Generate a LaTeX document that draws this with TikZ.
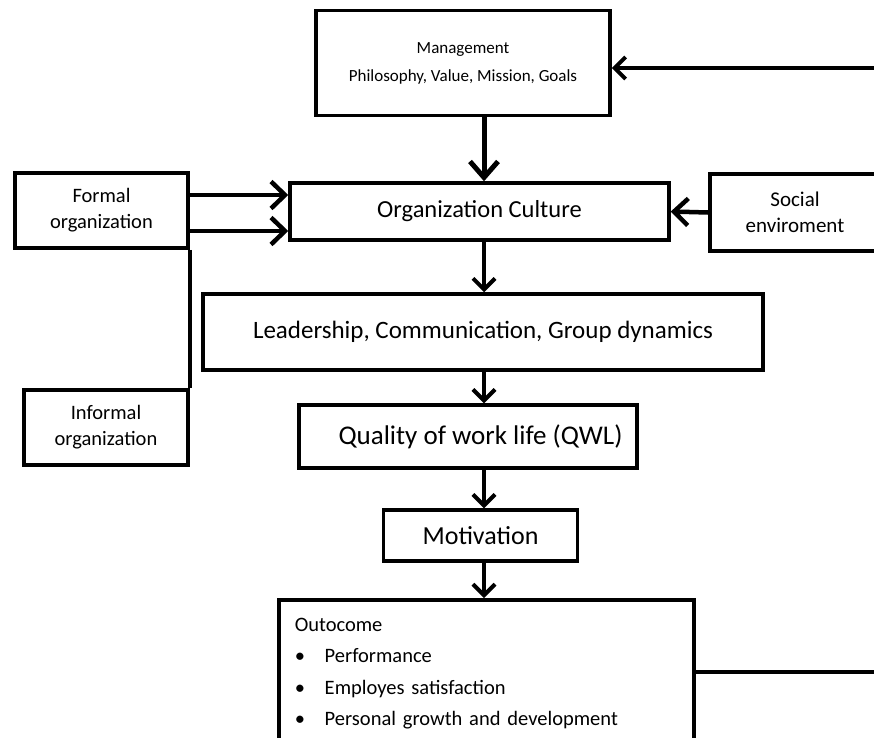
\documentclass[tikz,border=0pt]{standalone}
\usepackage{fontspec}
\setmainfont{Carlito}
\usetikzlibrary{arrows.meta,positioning,calc}
\tikzset{
  box/.style={draw=black, line width=3.5pt, fill=white, inner sep=0pt, align=center},
  flow/.style={line width=4pt, -{Straight Barb[length=11pt,width=22pt,line width=4pt]}},
  sideflow/.style={line width=4.5pt, -{Straight Barb[length=14pt,width=27pt,line width=4.5pt]}},
  bigflow/.style={line width=5pt, -{Straight Barb[length=16pt,width=28pt,line width=5pt]}},
  link/.style={line width=3.5pt},
}
\begin{document}
\begin{tikzpicture}[x=1pt,y=-1pt]
\useasboundingbox (0,0) rectangle (874,737);
% nodes
\node[box, minimum width=294pt, minimum height=105pt, font=\fontsize{17}{28}\selectfont] (mgmt) at (463,63) {Management\\Philosophy, Value, Mission, Goals};
\node[box, minimum width=379pt, minimum height=57pt, font=\fontsize{24.5}{26}\selectfont] (culture) at (479.5,211.5) {Organization Culture};
\node[box, minimum width=173pt, minimum height=75pt, font=\fontsize{20.5}{26}\selectfont] (formal) at (101.5,210.5) {Formal\\organization};
\node[box, minimum width=164pt, minimum height=75pt, font=\fontsize{20.5}{26}\selectfont] (informal) at (106,427.5) {Informal\\organization};
\node[box, minimum width=170pt, minimum height=77pt, font=\fontsize{21}{26}\selectfont] (social) at (795,212.5) {Social\\enviroment};
\node[box, minimum width=560pt, minimum height=76pt, font=\fontsize{25}{26}\selectfont] (lead) at (483,332) {Leadership, Communication, Group dynamics};
\node[box, minimum width=338pt, minimum height=63pt, font=\fontsize{27}{28}\selectfont] (qwl) at (468,436.5) {\hspace*{25pt}Quality of work life (QWL)};
\node[box, minimum width=194pt, minimum height=51pt, font=\fontsize{26}{28}\selectfont] (motiv) at (480.5,535.5) {Motivation};
\node[box, minimum width=415pt, anchor=north west, align=left, text width=383pt, inner xsep=16pt, inner ysep=18pt, font=\fontsize{20.5}{31.5}\selectfont] (outcome) at (277,598) {%
Outocome\\
\makebox[30pt][l]{\textbullet}Performance\\
\makebox[30pt][l]{\textbullet}Employes satisfaction\\
\makebox[30pt][l]{\textbullet}Personal growth and development\\[20pt]
\mbox{}};
% spine and feedback coordinates
\coordinate (spine) at (484,0);
\coordinate (fbtop) at (890,68);
\coordinate (fbbot) at (890,672);
% vertical flow
\draw[bigflow] (mgmt.south -| spine) -- (culture.north -| spine);
\draw[flow] (culture.south -| spine) -- (lead.north -| spine);
\draw[flow] (lead.south -| spine) -- (qwl.north -| spine);
\draw[flow] (qwl.south -| spine) -- (motiv.north -| spine);
\draw[flow] (motiv.south -| spine) -- (outcome.north -| spine);
% side inputs
\draw[sideflow] ($(formal.east)+(0,-15.5)$) -- ($(culture.west)+(0,-16.5)$);
\draw[sideflow] ($(formal.east)+(0,20.5)$) -- ($(culture.west)+(0,19.5)$);
\draw[link] (formal.south east) -- (informal.north east);
\draw[sideflow] (social.west) -- (culture.east);
% feedback loop
\draw[link] (outcome.east |- fbbot) -- (fbbot);
\draw[flow] (fbtop) -- (mgmt.east |- fbtop);
\end{tikzpicture}
\end{document}
